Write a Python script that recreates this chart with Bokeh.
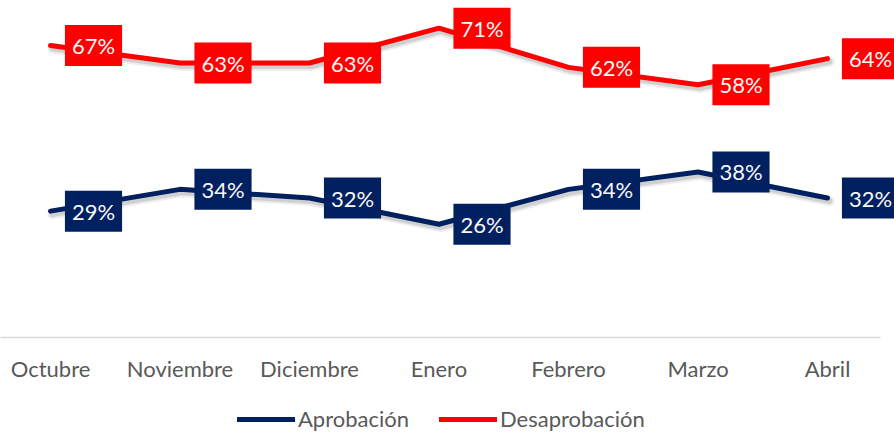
from bokeh.plotting import figure
from bokeh.layouts import column
from bokeh.models import (ColumnDataSource, Legend, LegendItem, Range1d, FixedTicker)
from bokeh.core.properties import value
from bokeh.embed import file_html
from bokeh.resources import INLINE

months = ["Octubre", "Noviembre", "Diciembre", "Enero", "Febrero", "Marzo", "Abril"]
aprobacion = [29, 34, 32, 26, 34, 38, 32]
desaprobacion = [67, 63, 63, 71, 62, 58, 64]

BLUE = "#002060"
RED = "#FF0000"
GRAY = "#595959"
FONT = "Lato"

xs = list(range(len(months)))
src = ColumnDataSource(dict(
    x=xs,
    apr=aprobacion,
    des=desaprobacion,
    apr_t=[f"{v}%" for v in aprobacion],
    des_t=[f"{v}%" for v in desaprobacion],
))

W = 894
H_MAIN = 384
H_LEG = 48
px_per_cat = 129.5
px_per_pct = 4.37
x_start = -50 / px_per_cat
x_end = x_start + W / px_per_cat
y_end = 338 / px_per_pct

p = figure(width=W, height=H_MAIN, output_backend="svg", toolbar_location=None,
           x_range=Range1d(x_start, x_end), y_range=Range1d(0, y_end),
           min_border_left=0, min_border_right=0, min_border_top=0, min_border_bottom=0)
p.outline_line_color = None
p.xgrid.visible = False
p.ygrid.visible = False
p.yaxis.visible = False

# shifted ranges used only for the soft drop shadow under the lines
dx = 2 / px_per_cat
dy = 3 / px_per_pct
p.extra_x_ranges = {"shadow": Range1d(x_start - dx, x_end - dx)}
p.extra_y_ranges = {"shadow": Range1d(dy, y_end + dy)}

ax = p.xaxis[0]
ax.ticker = FixedTicker(ticks=xs)
ax.major_label_overrides = {i: m for i, m in enumerate(months)}
ax.major_tick_line_color = None
ax.minor_tick_line_color = None
ax.major_tick_out = 0
ax.major_tick_in = 0
ax.minor_tick_out = 0
ax.axis_line_color = "#D9D9D9"
ax.axis_line_width = 1.5
ax.bounds = (x_start, x_start + 880 / px_per_cat)
ax.major_label_text_font = FONT
ax.major_label_text_font_size = "22px"
ax.major_label_text_color = GRAY
ax.major_label_standoff = 17

for col in ("apr", "des"):
    p.line("x", col, source=src, line_color="black", line_alpha=0.07, line_width=10,
           line_cap="round", line_join="round",
           x_range_name="shadow", y_range_name="shadow")
    p.line("x", col, source=src, line_color="black", line_alpha=0.12, line_width=6,
           line_cap="round", line_join="round",
           x_range_name="shadow", y_range_name="shadow")

p.line("x", "apr", source=src, line_color=BLUE, line_width=5,
       line_cap="round", line_join="round")
p.line("x", "des", source=src, line_color=RED, line_width=5,
       line_cap="round", line_join="round")

for col, txt, colr in (("apr", "apr_t", BLUE), ("des", "des_t", RED)):
    p.text(x="x", y=col, text=txt, source=src, x_offset=43,
           text_align="center", text_baseline="middle",
           text_font=value(FONT), text_font_size="22px", text_color="#F8F8F8",
           background_fill_color=colr,
           padding=dict(left=7, right=7, top=7, bottom=7))

# legend strip
q = figure(width=W, height=H_LEG, output_backend="svg", toolbar_location=None,
           x_range=p.x_range, y_range=Range1d(0, 1),
           min_border_left=0, min_border_right=0, min_border_top=0, min_border_bottom=0)
q.outline_line_color = None
q.xgrid.visible = False
q.ygrid.visible = False
q.xaxis.visible = False
q.yaxis.visible = False
l_apr = q.line("x", "apr", source=src, line_color=BLUE, line_width=5, line_cap="round")
l_des = q.line("x", "des", source=src, line_color=RED, line_width=5, line_cap="round")

legend = Legend(items=[LegendItem(label="Aprobación", renderers=[l_apr]),
                       LegendItem(label="Desaprobación", renderers=[l_des])],
                orientation="horizontal", location=(237, 0),
                glyph_width=58, label_standoff=3, spacing=30,
                label_text_font=FONT, label_text_font_size="22px",
                label_text_color=GRAY, border_line_color=None,
                background_fill_alpha=0, padding=0, margin=0)
q.add_layout(legend)

layout = column(p, q, spacing=0)
open("out.html", "w").write(file_html(layout, INLINE))
